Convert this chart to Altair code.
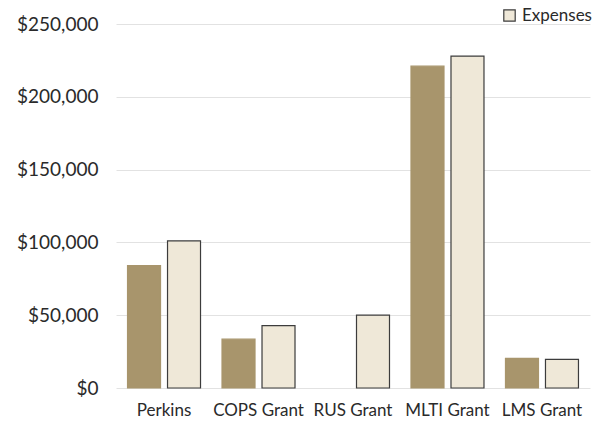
import altair as alt
import pandas as pd

# Grant programs and their dollar amounts per series
programs = ["Perkins", "COPS Grant", "RUS Grant", "MLTI Grant", "LMS Grant"]
revenue = [84000, 33500, 0, 221000, 20400]
expenses = [101000, 42800, 50000, 228000, 19700]

series_names = ["Revenue", "Expenses"]
fill_colors = ["#a8956c", "#efe8d8"]
stroke_colors = ["#a8956c", "#3c3c3c"]

rows = []
for p, r, e in zip(programs, revenue, expenses):
    rows.append({"program": p, "series": "Revenue", "amount": r})
    rows.append({"program": p, "series": "Expenses", "amount": e})
df = pd.DataFrame(rows)
df = df[df["amount"] > 0]

FONT = "Lato"

bars = alt.Chart(df).mark_bar(strokeWidth=1.2).encode(
    x=alt.X(
        "program:N",
        sort=programs,
        title=None,
        scale=alt.Scale(paddingInner=0.2275, paddingOuter=0.122),
        axis=alt.Axis(
            labelAngle=0,
            labelFont=FONT,
            labelFontSize=17,
            labelColor="#2a2a2a",
            labelPadding=14,
            ticks=False,
            domain=False,
            grid=False,
        ),
    ),
    xOffset=alt.XOffset(
        "series:N",
        sort=series_names,
        scale=alt.Scale(domain=series_names, paddingInner=0.175, paddingOuter=0),
    ),
    y=alt.Y(
        "amount:Q",
        title=None,
        scale=alt.Scale(domain=[0, 250000], nice=False),
        axis=alt.Axis(
            values=[0, 50000, 100000, 150000, 200000, 250000],
            format="$,.0f",
            labelFont=FONT,
            labelFontSize=19,
            labelColor="#2a2a2a",
            labelPadding=18,
            ticks=False,
            domain=False,
            gridColor="#e2e2e2",
            gridWidth=1,
        ),
    ),
    color=alt.Color(
        "series:N",
        scale=alt.Scale(domain=series_names, range=fill_colors),
        legend=alt.Legend(
            values=["Expenses"],
            title=None,
            orient="none",
            legendX=385,
            legendY=-17,
            symbolType="square",
            symbolSize=130,
            symbolStrokeColor="#3c3c3c",
            symbolStrokeWidth=1.2,
            labelFont=FONT,
            labelFontSize=17,
            labelColor="#2a2a2a",
            labelOffset=4,
        ),
    ),
    stroke=alt.Stroke(
        "series:N",
        scale=alt.Scale(domain=series_names, range=stroke_colors),
        legend=None,
    ),
)

chart = bars.properties(
    width=474,
    height=364,
    autosize=alt.AutoSizeParams(type="none"),
    padding={"left": 116, "top": 24, "right": 26, "bottom": 38},
    background="white",
).configure_view(stroke=None)

chart.save("out.html", embed_options={"renderer": "svg", "actions": False})
